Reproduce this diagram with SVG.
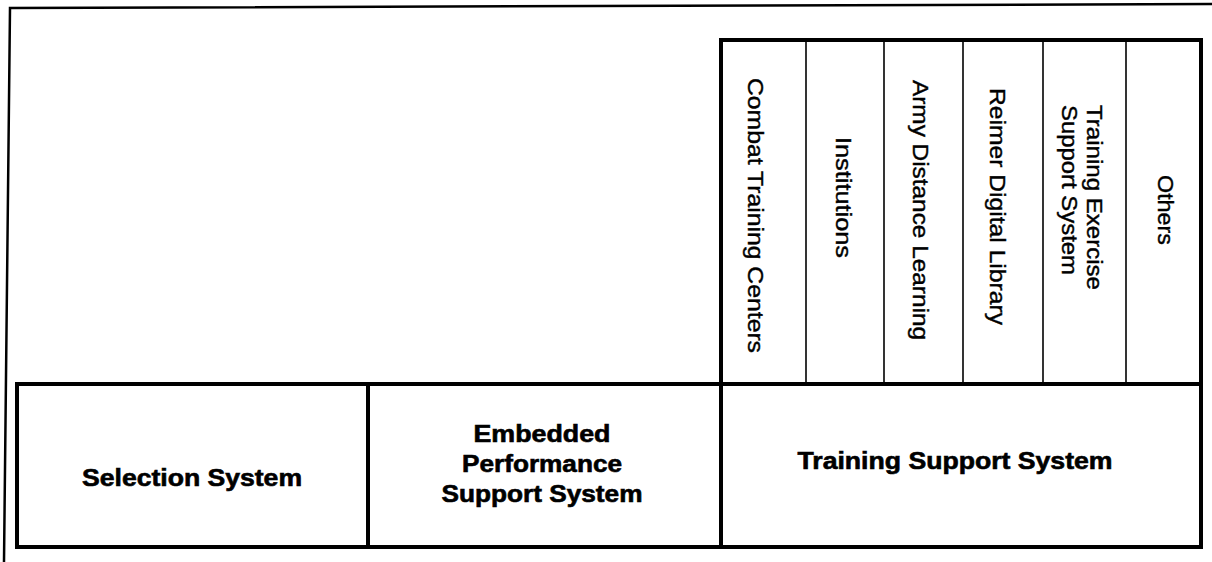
<svg xmlns="http://www.w3.org/2000/svg" width="1212" height="562" viewBox="0 0 1212 562">
<style>
.thick{fill:none;stroke:#000;stroke-width:4}
.thin{fill:none;stroke:#000;stroke-width:1.6}
.frame{fill:none;stroke:#000;stroke-width:2.5}
.b{font-family:"Liberation Sans",Arial,sans-serif;font-weight:bold;font-size:23px;fill:#000;stroke:#000;stroke-width:0.6;text-anchor:middle}
.v{font-family:"Liberation Sans",Arial,sans-serif;font-size:22px;fill:#000;stroke:#000;stroke-width:0.4}
</style>
<rect width="1212" height="562" fill="#fff"/>
<g id="frame">
<polyline class="frame" points="4,562 10,8 1212,4"/>
</g>
<g id="training-components">
<rect class="thick" x="721" y="40" width="480" height="344"/>
<line class="thin" x1="806" y1="40" x2="806" y2="384"/>
<line class="thin" x1="884" y1="40" x2="884" y2="384"/>
<line class="thin" x1="963" y1="40" x2="963" y2="384"/>
<line class="thin" x1="1043" y1="40" x2="1043" y2="384"/>
<line class="thin" x1="1126" y1="40" x2="1126" y2="384"/>
</g>
<g id="combat-training-centers"><text class="v" transform="translate(748,78) rotate(90)" textLength="275" lengthAdjust="spacingAndGlyphs">Combat Training Centers</text></g>
<g id="institutions"><text class="v" transform="translate(836,137) rotate(90)" textLength="121" lengthAdjust="spacingAndGlyphs">Institutions</text></g>
<g id="army-distance-learning"><text class="v" transform="translate(913,80) rotate(90)" textLength="260" lengthAdjust="spacingAndGlyphs">Army Distance Learning</text></g>
<g id="reimer-digital-library"><text class="v" transform="translate(990,88) rotate(90)" textLength="237" lengthAdjust="spacingAndGlyphs">Reimer Digital Library</text></g>
<g id="training-exercise-support-system">
<text class="v" transform="translate(1087,105) rotate(90)" textLength="185" lengthAdjust="spacingAndGlyphs">Training Exercise</text>
<text class="v" transform="translate(1062,105) rotate(90)" textLength="170" lengthAdjust="spacingAndGlyphs">Support System</text>
</g>
<g id="others"><text class="v" transform="translate(1158,175) rotate(90)" textLength="70" lengthAdjust="spacingAndGlyphs">Others</text></g>
<g id="selection-system">
<rect class="thick" x="17" y="384" width="351" height="163"/>
<text class="b" x="192" y="486" textLength="220" lengthAdjust="spacingAndGlyphs">Selection System</text>
</g>
<g id="embedded-performance-support-system">
<rect class="thick" x="368" y="384" width="353" height="163"/>
<text class="b" x="542" y="442" textLength="137" lengthAdjust="spacingAndGlyphs">Embedded</text>
<text class="b" x="542" y="472" textLength="160" lengthAdjust="spacingAndGlyphs">Performance</text>
<text class="b" x="542" y="502" textLength="201" lengthAdjust="spacingAndGlyphs">Support System</text>
</g>
<g id="training-support-system">
<rect class="thick" x="721" y="384" width="480" height="163"/>
<text class="b" x="955" y="469" textLength="315" lengthAdjust="spacingAndGlyphs">Training Support System</text>
</g>
<g id="connectors"></g>
</svg>
